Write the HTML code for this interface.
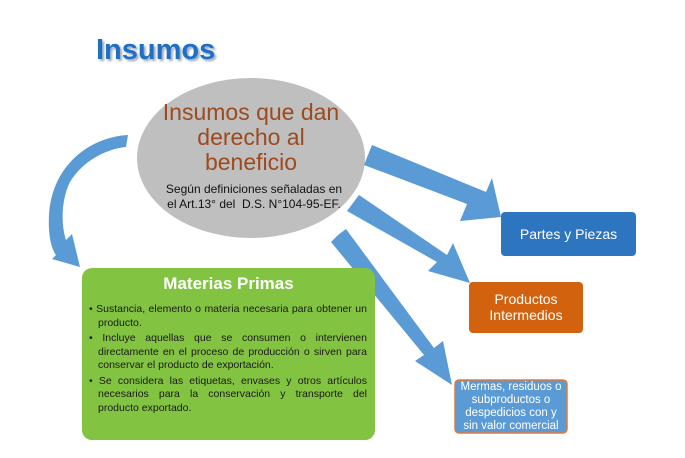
<!DOCTYPE html>
<html><head><meta charset="utf-8"><style>
body{margin:0;background:#fff;}
.wrap{position:relative;width:685px;height:458px;overflow:hidden;font-family:"Liberation Sans",sans-serif;}
.abs{position:absolute;}
</style></head><body><div class="wrap">
<svg class="abs" style="left:0;top:0" width="685" height="458">
<ellipse cx="251" cy="158" rx="114" ry="80" fill="#bfbfbf"/>
<path d="M128,135 C90,137 52,165 49,215 C48,235 51,248 56,255 L52,259 L80,267 L72,234 L66,240 C61,225 61,200 70,182 C82,162 105,149 126,147 Z" fill="#5b9bd5"/>
<g fill="#5b9bd5">
<polygon points="368,155 372,145 486,192 492,178 501,217 460,221 467,204 364,165"/>
<polygon points="353,203 359,195 447,255 453,243 470,283 428,271 437,262 347,211"/>
<polygon points="338,235 346,229 434,348 443,341 452,385 415,361 424,355 331,242"/>
</g>
<rect x="82" y="268" width="293" height="172" rx="10" fill="#82c341"/>
<rect x="501" y="212" width="135" height="44" rx="4" fill="#2e75c0"/>
<rect x="469" y="282" width="114" height="51" rx="4" fill="#d3620f"/>
<rect x="455" y="380" width="112" height="53" rx="4" fill="#5b9bd5" stroke="#e07b39" stroke-width="1.5"/>
</svg>
<div class="abs" style="left:96px;top:34px;font-size:29px;font-weight:bold;color:#1f6fc5;text-shadow:2px 2px 2px #9ab;">Insumos</div>
<div class="abs" style="left:150px;top:100px;width:202px;text-align:center;font-size:23px;line-height:25px;color:#9c4a1e;">Insumos que dan<br>derecho al<br>beneficio</div>
<div class="abs" style="left:150px;top:182px;width:208px;text-align:center;font-size:12px;line-height:15px;color:#111;">Según definiciones señaladas en<br>el Art.13° del &nbsp;D.S. N°104-95-EF.</div>
<div class="abs" style="left:82px;top:274px;width:293px;text-align:center;font-size:17px;font-weight:bold;color:#fff;">Materias Primas</div>
<div class="abs" style="left:89px;top:303px;width:278px;font-size:10.5px;line-height:13.5px;color:#1a1a1a;text-align:justify;">
<div style="padding-left:9px;text-indent:-9px;">• Sustancia, elemento o materia necesaria para obtener un producto.</div>
<div style="padding-left:9px;text-indent:-9px;margin-top:2px;">• Incluye aquellas que se consumen o intervienen directamente en el proceso de producción o sirven para conservar el producto de exportación.</div>
<div style="padding-left:9px;text-indent:-9px;margin-top:2px;">• Se considera las etiquetas, envases y otros artículos necesarios para la conservación y transporte del producto exportado.</div>
</div>
<div class="abs" style="left:501px;top:226px;width:135px;text-align:center;font-size:14px;color:#fff;">Partes y Piezas</div>
<div class="abs" style="left:469px;top:291px;width:114px;text-align:center;font-size:14px;line-height:16px;color:#fff;">Productos<br>Intermedios</div>
<div class="abs" style="left:455px;top:381px;width:112px;text-align:center;font-size:11.5px;line-height:13px;color:#fff;">Mermas, residuos o<br>subproductos o<br>despedicios con y<br>sin valor comercial</div>
</div></body></html>
